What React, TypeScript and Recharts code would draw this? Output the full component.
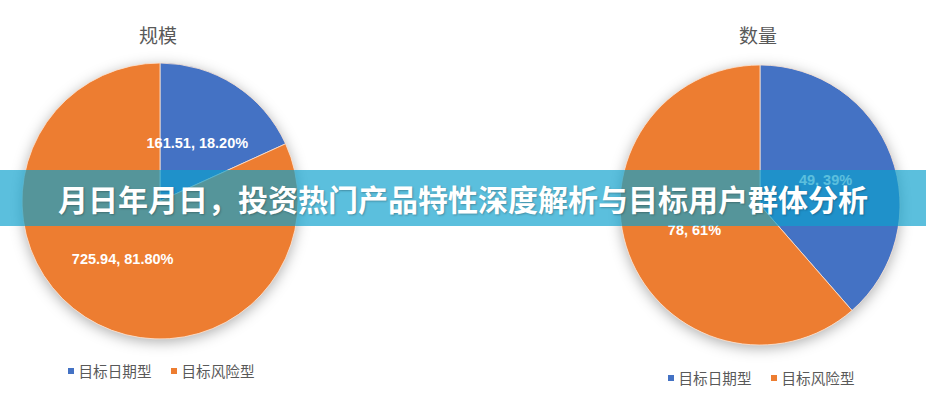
import React from "react";
import { PieChart, Pie, Cell, Legend } from "recharts";

const categories = ["目标日期型", "目标风险型"];
const scaleValues = [161.51, 725.94];
const countValues = [49, 78];
const colors = ["#4472C4", "#ED7D31"];
const titles = ["规模", "数量"];
const bannerText = "月日年月日，投资热门产品特性深度解析与目标用户群体分析";

const FONT = '"Liberation Sans", Arial, "Noto Sans CJK SC", sans-serif';
const CJK = '"Noto Sans CJK SC", "Noto Sans", sans-serif';
const RAD = Math.PI / 180;
const noMargin = { top: 0, right: 0, bottom: 0, left: 0 };

const makeData = (vals: number[]) =>
  categories.map((name, i) => ({ name, value: vals[i] }));

const renderLabel = (decimals: number) => (props: any) => {
  const { cx, cy, midAngle, outerRadius, value, percent } = props;
  const r = outerRadius * 0.5;
  const x = cx + r * Math.cos(-midAngle * RAD);
  const y = cy + r * Math.sin(-midAngle * RAD);
  return (
    <text
      x={x}
      y={y}
      fill="#fff"
      textAnchor="middle"
      dominantBaseline="central"
      fontSize={14.5}
      fontWeight="bold"
      fontFamily={FONT}
    >
      {`${value}, ${(percent * 100).toFixed(decimals)}%`}
    </text>
  );
};

const LegendContent = (props: any) => {
  const items = props.payload || [];
  return (
    <div style={{ display: "flex", justifyContent: "center", gap: 19, whiteSpace: "nowrap" }}>
      {items.map((p: any) => (
        <div key={p.value} style={{ display: "flex", alignItems: "center" }}>
          <span
            style={{
              width: 6,
              height: 6,
              background: p.color,
              marginRight: 5,
              display: "inline-block",
            }}
          />
          <span style={{ fontSize: 14.6, color: "#595959", fontFamily: CJK }}>
            {p.value}
          </span>
        </div>
      ))}
    </div>
  );
};

const OnePie: React.FC<{
  title: string;
  vals: number[];
  decimals: number;
  cy: number;
  radius: number;
  legendTop: number;
}> = ({ title, vals, decimals, cy, radius, legendTop }) => {
  const data = makeData(vals);
  return (
    <div style={{ position: "relative", width: 320, height: 400 }}>
      <div
        style={{
          position: "absolute",
          top: 23,
          left: 0,
          width: 316,
          textAlign: "center",
          fontSize: 19,
          color: "#595959",
          fontFamily: CJK,
          lineHeight: "24px",
        }}
      >
        {title}
      </div>
      {/* soft shadow under the pie */}
      <div
        style={{
          position: "absolute",
          left: 0,
          top: 0,
          filter: "drop-shadow(0px 3px 7px rgba(0,0,0,0.32))",
        }}
      >
        <PieChart width={320} height={400} margin={noMargin}>
          <Pie
            data={data}
            dataKey="value"
            cx={160}
            cy={cy}
            outerRadius={radius}
            startAngle={90}
            endAngle={-270}
            stroke="none"
            fill="#fff"
            isAnimationActive={false}
          />
        </PieChart>
      </div>
      <div style={{ position: "absolute", left: 0, top: 0 }}>
        <PieChart width={320} height={400} margin={noMargin}>
          <Pie
            data={data}
            dataKey="value"
            cx={160}
            cy={cy}
            outerRadius={radius}
            startAngle={90}
            endAngle={-270}
            stroke="#fbe3d3"
            strokeWidth={0.8}
            label={renderLabel(decimals)}
            labelLine={false}
            isAnimationActive={false}
          >
            {data.map((d, i) => (
              <Cell key={d.name} fill={colors[i]} />
            ))}
          </Pie>
          <Legend
            content={LegendContent}
            wrapperStyle={{ position: "absolute", top: legendTop, left: 0, width: 322 }}
          />
        </PieChart>
      </div>
    </div>
  );
};

export default function App() {
  return (
    <div
      style={{
        position: "fixed",
        left: 0,
        top: 0,
        width: 926,
        height: 400,
        background: "#fff",
        overflow: "hidden",
      }}
    >
      <div style={{ position: "absolute", left: 0, top: 0 }}>
        <OnePie
          title={titles[0]}
          vals={scaleValues}
          decimals={2}
          cy={201}
          radius={138}
          legendTop={360}
        />
      </div>
      <div style={{ position: "absolute", left: 600, top: 0 }}>
        <OnePie
          title={titles[1]}
          vals={countValues}
          decimals={0}
          cy={205}
          radius={140}
          legendTop={367}
        />
      </div>
      <div
        style={{
          position: "absolute",
          left: 0,
          top: 170,
          width: 926,
          height: 56,
          background: "rgba(14,161,205,0.68)",
          color: "#fff",
          fontFamily: CJK,
          fontWeight: "bold",
          fontSize: 30,
          lineHeight: "56px",
          textAlign: "center",
          textShadow: "1px 1px 2px rgba(0,0,0,0.25)",
        }}
      >
        {bannerText}
      </div>
    </div>
  );
}
